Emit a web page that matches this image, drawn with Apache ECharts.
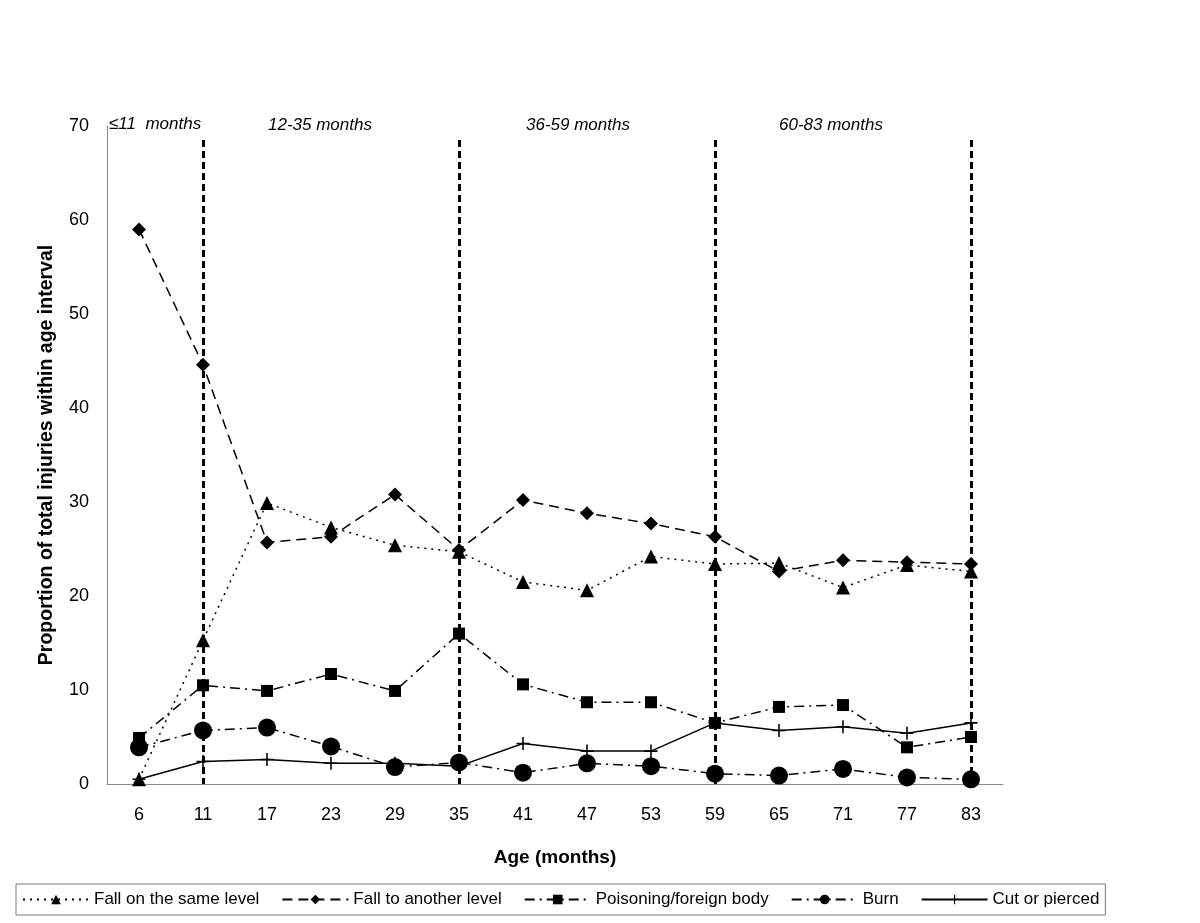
<!DOCTYPE html>
<html><head><meta charset="utf-8">
<script src="https://cdn.jsdelivr.net/npm/echarts@6/dist/echarts.min.js"></script>
<style>html,body{margin:0;padding:0;background:#fff}#c{width:1200px;height:923px}</style>
</head><body><div id="c"></div>
<script>
const ages = ['6','11','17','23','29','35','41','47','53','59','65','71','77','83'];
const fallSame = [0.5,15.3,29.9,27.3,25.4,24.7,21.5,20.6,24.2,23.4,23.5,20.9,23.3,22.6];
const fallAnother = [59.0,44.6,25.7,26.3,30.8,24.9,30.2,28.8,27.7,26.3,22.6,23.8,23.6,23.4];
const poisoning = [4.9,10.5,9.9,11.7,9.9,16.0,10.6,8.7,8.7,6.5,8.2,8.4,3.9,5.0];
const burn = [3.9,5.7,6.0,4.0,1.8,2.3,1.2,2.2,1.9,1.1,0.9,1.6,0.7,0.5];
const cut = [0.5,2.4,2.6,2.2,2.2,1.9,4.3,3.5,3.5,6.5,5.7,6.1,5.4,6.5];
const dividers = ['11','35','59','83'];
const periods = ['\u226411  months','12-35 months','36-59 months','60-83 months'];

const FONT = '"Liberation Sans", Arial, sans-serif';
const plus = 'path://M4.4,0h1.2v4.4h4.4v1.2h-4.4v4.4h-1.2v-4.4h-4.4v-1.2h4.4z';

function ser(name, data, symbol, size, dash, extra) {
  return Object.assign({
    name, type: 'line', data, symbol, symbolSize: size,
    clip: false,
    itemStyle: {color: '#000'},
    lineStyle: {color: '#000', width: 1.5, type: dash},
    emphasis: {disabled: true}
  }, extra || {});
}

const chart = echarts.init(document.getElementById('c'), null, {renderer: 'canvas'});
chart.setOption({
  animation: false,
  backgroundColor: '#fff',
  textStyle: {fontFamily: FONT},
  grid: {left: 107, right: 197, top: 126, bottom: 139},
  xAxis: {
    type: 'category', data: ages, boundaryGap: true,
    name: 'Age (months)', nameLocation: 'middle', nameGap: 64,
    nameTextStyle: {fontSize: 19, fontWeight: 'bold', color: '#000', fontFamily: FONT},
    axisLine: {lineStyle: {color: '#888', width: 1}},
    axisTick: {show: false},
    axisLabel: {fontSize: 18, color: '#000', margin: 22, fontFamily: FONT}
  },
  yAxis: {
    type: 'value', min: 0, max: 70, interval: 10,
    name: 'Proportion of total injuries within age interval', nameLocation: 'middle', nameGap: 50,
    nameTextStyle: {fontSize: 19.5, fontWeight: 'bold', color: '#000', fontFamily: FONT},
    axisLine: {show: true, lineStyle: {color: '#888', width: 1}},
    axisTick: {show: false},
    splitLine: {show: false},
    axisLabel: {fontSize: 18, color: '#000', margin: 18, fontFamily: FONT}
  },
  legend: {
    left: 16, top: 884,
    padding: [7, 6, 7, 6],
    borderColor: '#777', borderWidth: 1,
    itemWidth: 66, itemHeight: 12, itemGap: 22,
    textStyle: {fontSize: 17, color: '#000', fontFamily: FONT},
    data: ['Fall on the same level','Fall to another level','Poisoning/foreign body','Burn','Cut or pierced']
  },
  graphic: [
    {type: 'text', left: 109, top: 116, style: {text: periods[0], font: 'italic 17px ' + FONT, fill: '#000'}},
    {type: 'text', left: 268, top: 117, style: {text: periods[1], font: 'italic 17px ' + FONT, fill: '#000'}},
    {type: 'text', left: 526, top: 117, style: {text: periods[2], font: 'italic 17px ' + FONT, fill: '#000'}},
    {type: 'text', left: 779, top: 117, style: {text: periods[3], font: 'italic 17px ' + FONT, fill: '#000'}}
  ],
  series: [
    ser('Fall on the same level', fallSame, 'triangle', 14, [2, 5], {
      markLine: {
        silent: true, symbol: 'none', label: {show: false},
        lineStyle: {color: '#000', width: 3, type: [7, 4]},
        data: dividers.map(d => [{coord: [d, 68.5]}, {coord: [d, 0]}])
      }
    }),
    ser('Fall to another level', fallAnother, 'diamond', 14, [10, 6]),
    ser('Poisoning/foreign body', poisoning, 'rect', 12, [10, 5, 2, 5]),
    ser('Burn', burn, 'circle', 18, [10, 5, 2, 5]),
    ser('Cut or pierced', cut, plus, 13, 'solid')
  ]
});
</script></body></html>
